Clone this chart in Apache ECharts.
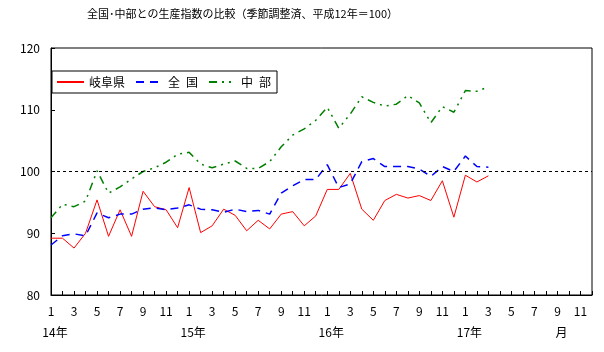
<!DOCTYPE html>
<html>
<head>
<meta charset="utf-8">
<script src="https://cdn.jsdelivr.net/npm/echarts@6/dist/echarts.min.js"></script>
<style>
html, body { margin: 0; padding: 0; background: #fff; }
#chart { width: 604px; height: 352px; }
</style>
</head>
<body>
<div id="chart"></div>
<script>
// 平成14年1月 ～ 17年12月 の月次軸
var years = ['14年', '15年', '16年', '17年'];
var monthsPerYear = 12;

// 季節調整済 生産指数（平成12年＝100）、14年1月～17年3月
var gifu = [89.2, 89.2, 87.6, 90.0, 95.4, 89.5, 93.8, 89.5, 96.8, 94.3, 93.8, 90.9,
    97.4, 90.1, 91.2, 93.9, 92.9, 90.4, 92.1, 90.7, 93.1, 93.5, 91.2, 92.8,
    97.1, 97.1, 99.7, 93.9, 92.1, 95.3, 96.3, 95.7, 96.1, 95.3, 98.5, 92.6,
    99.4, 98.3, 99.3];
var zenkoku = [88.1, 89.6, 89.9, 89.6, 93.3, 92.5, 93.1, 93.1, 93.9, 94.1, 93.8, 94.1,
    94.6, 93.9, 93.8, 93.4, 93.9, 93.5, 93.7, 93.1, 96.5, 97.7, 98.7, 98.7,
    101.1, 97.4, 98.0, 101.6, 102.1, 100.8, 100.8, 100.8, 100.4, 99.2, 100.8, 100.0,
    102.5, 100.8, 100.7];
var chubu = [92.5, 94.7, 94.3, 95.2, 100.1, 96.5, 97.5, 98.8, 100.0, 100.6, 101.5, 102.8,
    103.1, 101.2, 100.6, 101.2, 101.7, 100.5, 100.5, 101.6, 104.0, 105.9, 106.9, 108.3,
    110.4, 107.0, 109.3, 112.1, 111.2, 110.6, 110.9, 112.3, 111.1, 107.9, 110.5, 109.6,
    113.1, 113.0, 113.7];

var baseLine = 100;
var monthUnit = '月';

var categories = [];
var monthLabels = [];
var yearLabels = [];
for (var y = 0; y < years.length; y++) {
    for (var m = 1; m <= monthsPerYear; m++) {
        categories.push(years[y] + m);
        monthLabels.push(m % 2 === 1 ? String(m) : '');
        yearLabels.push(m === 1 ? years[y] : '');
    }
}
yearLabels[44] = monthUnit;

var font = '"Noto Sans CJK JP", "Noto Sans", sans-serif';
var chart = echarts.init(document.getElementById('chart'));

chart.setOption({
    animation: false,
    backgroundColor: '#fff',
    textStyle: { fontFamily: font, color: '#000' },
    title: {
        text: '全国･中部との生産指数の比較（季節調整済、平成12年＝100）',
        left: 87,
        top: 8,
        padding: 0,
        textStyle: { fontSize: 11, fontWeight: 'normal', color: '#000', fontFamily: font }
    },
    legend: {
        left: 52,
        top: 71,
        padding: [5, 6, 5, 4],
        itemWidth: 27,
        itemHeight: 14,
        itemGap: 10,
        borderColor: '#000',
        borderWidth: 1,
        itemStyle: { opacity: 0 },
        textStyle: { fontSize: 12, color: '#000', fontFamily: font },
        data: ['岐阜県', '全\u2002国', '中\u2002部']
    },
    grid: {
        left: 51,
        right: 12,
        top: 48,
        bottom: 57,
        show: true,
        borderColor: '#000',
        borderWidth: 1,
        containLabel: false
    },
    xAxis: [{
        type: 'category',
        boundaryGap: false,
        data: categories,
        axisLine: { lineStyle: { color: '#000', width: 1 } },
        axisTick: { inside: true, length: 4, interval: 0, lineStyle: { color: '#000' } },
        axisLabel: {
            interval: 0,
            margin: 10,
            fontSize: 12,
            color: '#000',
            fontFamily: font,
            formatter: function (v, i) { return monthLabels[i]; }
        },
        splitLine: { show: false }
    }, {
        type: 'category',
        boundaryGap: false,
        position: 'bottom',
        data: categories,
        axisLine: { show: false },
        axisTick: { show: false },
        axisLabel: {
            interval: 0,
            margin: 31,
            fontSize: 12,
            color: '#000',
            fontFamily: font,
            padding: [0, 0, 0, 8],
            formatter: function (v, i) { return yearLabels[i]; }
        },
        splitLine: { show: false }
    }],
    yAxis: {
        type: 'value',
        min: 80,
        max: 120,
        interval: 10,
        axisLine: { show: true, lineStyle: { color: '#000', width: 1 } },
        axisTick: { show: true, inside: true, length: 4, lineStyle: { color: '#000' } },
        axisLabel: { margin: 11, fontSize: 12, color: '#000', fontFamily: font },
        splitLine: { show: false }
    },
    series: [{
        name: '岐阜県',
        type: 'line',
        data: gifu,
        symbol: 'none',
        color: '#ff0000',
        lineStyle: { color: '#ff0000', width: 1 },
        markLine: {
            silent: true,
            symbol: ['none', 'none'],
            label: { show: false },
            lineStyle: { color: '#000', width: 1, type: [3, 3] },
            data: [{ yAxis: baseLine }]
        }
    }, {
        name: '全\u2002国',
        type: 'line',
        data: zenkoku,
        symbol: 'none',
        color: '#0000ff',
        lineStyle: { color: '#0000ff', width: 1.5, type: [8, 6] }
    }, {
        name: '中\u2002部',
        type: 'line',
        data: chubu,
        symbol: 'none',
        color: '#008000',
        lineStyle: { color: '#008000', width: 1.5, type: [8, 5, 2, 5, 2, 5] }
    }]
});
</script>
</body>
</html>
